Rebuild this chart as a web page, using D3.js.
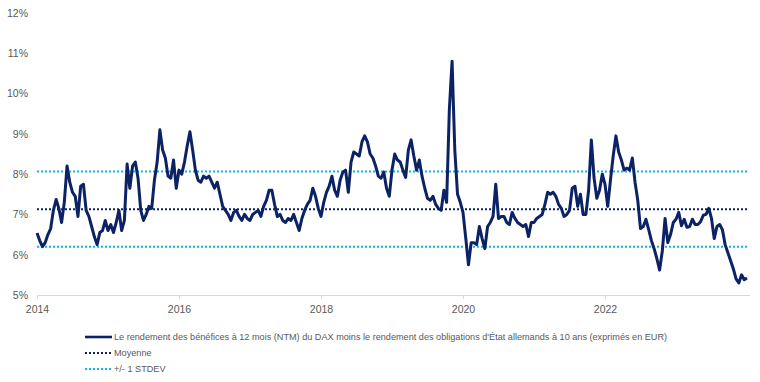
<!DOCTYPE html>
<html>
<head>
<meta charset="utf-8">
<script src="https://cdn.jsdelivr.net/npm/d3@7"></script>
<style>
  body { margin: 0; background: #fff; }
  svg text { font-family: "Liberation Sans", Arial, sans-serif; fill: #595959; }
  .axis path, .axis line { stroke: #d9d9d9; }
</style>
</head>
<body>
<div id="chartArea"></div>
<script>
// Biweekly readings (26 per year), in %
let vals2014 = [6.54, 6.35, 6.2, 6.3, 6.5, 6.65, 7.1, 7.37, 7.15, 6.8, 7.3, 8.2, 7.8, 7.55, 7.45, 6.95, 7.7, 7.75, 7.1, 6.95, 6.7, 6.45, 6.25, 6.55, 6.6, 6.85];
let vals2015 = [6.6, 6.75, 6.55, 6.8, 7.1, 6.6, 6.85, 8.25, 7.65, 8.2, 8.3, 7.9, 7.1, 6.85, 7.0, 7.2, 7.15, 7.85, 8.3, 9.1, 8.6, 8.4, 7.95, 7.9, 8.35, 7.65];
let vals2016 = [8.1, 8.0, 8.3, 8.7, 9.05, 8.6, 8.1, 7.85, 7.8, 7.95, 7.9, 7.95, 7.8, 7.65, 7.8, 7.5, 7.2, 7.1, 7.0, 6.85, 7.05, 7.1, 6.95, 6.85, 7.0, 6.9];
let vals2017 = [6.85, 7.0, 7.05, 7.1, 6.95, 7.2, 7.35, 7.6, 7.6, 7.25, 6.95, 7.0, 6.85, 6.8, 6.9, 6.85, 7.0, 6.8, 6.6, 6.9, 7.1, 7.25, 7.35, 7.65, 7.45, 7.15];
let vals2018 = [6.95, 7.3, 7.55, 7.7, 7.95, 7.6, 7.45, 7.85, 8.05, 8.1, 7.55, 8.3, 8.55, 8.5, 8.45, 8.8, 8.95, 8.8, 8.5, 8.4, 8.2, 7.95, 7.9, 8.05, 7.65, 7.45];
let vals2019 = [8.1, 8.5, 8.35, 8.3, 8.1, 7.92, 8.6, 8.85, 8.45, 8.1, 8.35, 7.95, 7.65, 7.4, 7.35, 7.45, 7.25, 7.15, 7.1, 7.6, 7.3, 9.6, 10.8, 8.6, 7.5, 7.3];
let vals2020 = [7.05, 6.42, 5.75, 6.3, 6.3, 6.25, 6.7, 6.4, 6.15, 6.7, 6.8, 6.95, 7.75, 6.9, 6.95, 6.95, 6.8, 6.75, 7.05, 6.9, 6.8, 6.75, 6.7, 6.75, 6.45, 6.8];
let vals2021 = [6.8, 6.9, 6.95, 7.0, 7.25, 7.55, 7.5, 7.55, 7.45, 7.25, 7.15, 6.95, 7.0, 7.1, 7.65, 7.7, 7.2, 7.5, 7.0, 7.0, 7.6, 8.85, 7.9, 7.4, 7.6, 8.0];
let vals2022 = [7.75, 7.2, 7.85, 8.45, 8.95, 8.55, 8.35, 8.1, 8.15, 8.1, 8.4, 7.8, 7.35, 6.65, 6.7, 6.88, 6.62, 6.35, 6.15, 5.9, 5.62, 6.1, 6.9, 6.3, 6.5, 6.8];
let vals2023 = [6.88, 7.05, 6.72, 6.88, 6.68, 6.7, 6.88, 6.75, 6.75, 6.82, 6.98, 7.0, 7.15, 6.9, 6.4, 6.7, 6.75, 6.62, 6.25, 6.05, 5.85, 5.65, 5.4, 5.3, 5.5, 5.38, 5.42];

let years = [2014, 2015, 2016, 2017, 2018, 2019, 2020, 2021, 2022, 2023];
let yearVals = [vals2014, vals2015, vals2016, vals2017, vals2018, vals2019, vals2020, vals2021, vals2022, vals2023];

let meanValue = 7.13;
let stdevValue = 0.935;

let yTicks = [5, 6, 7, 8, 9, 10, 11, 12];
let xTicks = [2014, 2016, 2018, 2020, 2022];

let legendLabels = [
    "Le rendement des bénéfices à 12 mois (NTM) du DAX moins le rendement des obligations d'État allemands à 10 ans (exprimés en EUR)",
    "Moyenne",
    "+/- 1 STDEV"
];

// Flatten into points with decimal-year x
let data = [];
years.forEach((yr, k) => {
    yearVals[k].forEach((v, i) => data.push({ t: yr + i / 26, v: v }));
});

let width = 760, height = 382;
let navy = '#0b2265';
let cyan = '#12b5ea';

let svg = d3.select('#chartArea')
    .append('svg')
    .attr('width', width)
    .attr('height', height);

let xScale = d3.scaleLinear()
    .domain([2014, 2024])
    .range([37, 747]);

let yScale = d3.scaleLinear()
    .domain([5, 12])
    .range([295, 13]);

// x axis
let xAxis = svg.append('g')
    .attr('class', 'axis')
    .attr('transform', 'translate(0,' + yScale(5) + ')')
    .call(d3.axisBottom(xScale)
        .tickValues(xTicks)
        .tickFormat(d3.format('d'))
        .tickSizeInner(4)
        .tickSizeOuter(0)
        .tickPadding(7));
xAxis.select('.domain').attr('d', 'M' + xScale(2014) + ',0.5H' + (xScale(2024) + 3) + 'V0.5');
xAxis.selectAll('text').style('font-size', '10.5px').style('fill', '#595959');

// y axis labels only
let yAxis = svg.append('g')
    .attr('class', 'axis')
    .attr('transform', 'translate(28,0)')
    .call(d3.axisLeft(yScale)
        .tickValues(yTicks)
        .tickFormat(d => d + '%')
        .tickSize(0)
        .tickPadding(0));
yAxis.select('.domain').remove();
yAxis.selectAll('text').style('font-size', '10.5px').style('fill', '#595959');

// mean and +/- stdev lines
let refLines = [
    { v: meanValue, color: navy },
    { v: meanValue + stdevValue, color: cyan },
    { v: meanValue - stdevValue, color: cyan }
];
svg.selectAll('.ref')
    .data(refLines)
    .enter().append('line')
    .attr('class', 'ref')
    .attr('x1', xScale(2014))
    .attr('x2', xScale(2024))
    .attr('y1', d => yScale(d.v))
    .attr('y2', d => yScale(d.v))
    .attr('stroke', d => d.color)
    .attr('stroke-width', 2)
    .attr('stroke-dasharray', '2,2');

// main series
let line = d3.line()
    .x(d => xScale(d.t))
    .y(d => yScale(d.v));

svg.append('path')
    .attr('d', line(data))
    .attr('fill', 'none')
    .attr('stroke', navy)
    .attr('stroke-width', 3)
    .attr('stroke-linejoin', 'round');

// legend
let legendStyles = [
    { color: navy, dash: null, width: 2.6 },
    { color: navy, dash: '2,2', width: 2 },
    { color: cyan, dash: '2,2', width: 2 }
];
let legend = svg.selectAll('.legend')
    .data(legendLabels)
    .enter().append('g')
    .attr('class', 'legend')
    .attr('transform', (d, i) => 'translate(85,' + (337 + i * 16) + ')');

legend.append('line')
    .attr('x1', 0)
    .attr('x2', 27)
    .attr('stroke', (d, i) => legendStyles[i].color)
    .attr('stroke-width', (d, i) => legendStyles[i].width)
    .attr('stroke-dasharray', (d, i) => legendStyles[i].dash);

legend.append('text')
    .attr('x', 29)
    .attr('dy', '0.35em')
    .style('font-size', '9.15px')
    .text(d => d);
</script>
</body>
</html>
